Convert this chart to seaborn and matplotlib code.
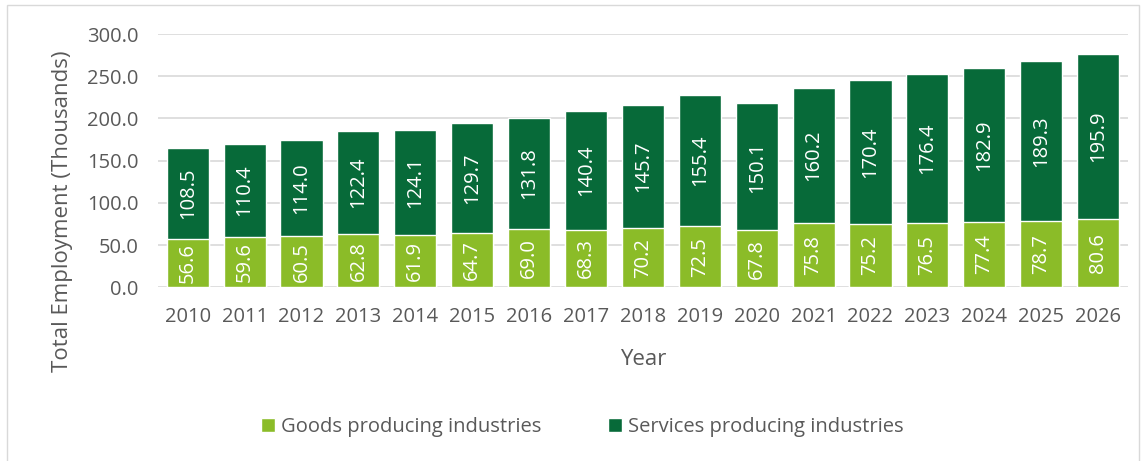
import numpy as np
import pandas as pd
import matplotlib
matplotlib.use("Agg")
import matplotlib.pyplot as plt
import seaborn as sns
from matplotlib.patches import Patch, Rectangle

# ============================================================================
# DATA
# ============================================================================

years = ["2010", "2011", "2012", "2013", "2014", "2015", "2016", "2017", "2018",
         "2019", "2020", "2021", "2022", "2023", "2024", "2025", "2026"]

goods = [56.6, 59.6, 60.5, 62.8, 61.9, 64.7, 69.0, 68.3, 70.2,
         72.5, 67.8, 75.8, 75.2, 76.5, 77.4, 78.7, 80.6]

services = [108.5, 110.4, 114.0, 122.4, 124.1, 129.7, 131.8, 140.4, 145.7,
            155.4, 150.1, 160.2, 170.4, 176.4, 182.9, 189.3, 195.9]

yticks = [0, 50, 100, 150, 200, 250, 300]

goods_color = "#8BBC28"
services_color = "#076A39"
text_color = "#595959"

df = pd.DataFrame({"Year": years, "Goods": goods, "Services": services})
df["Total"] = df["Goods"] + df["Services"]

# ============================================================================
# PLOT
# ============================================================================

sns.set_style("white")
plt.rcParams["font.family"] = ["Open Sans", "DejaVu Sans"]

fig = plt.figure(figsize=(11.46, 4.61), dpi=100)
ax = fig.add_axes([0.138, 0.377, 0.846, 0.549])

# services drawn as total, goods on top of it
sns.barplot(data=df, x="Year", y="Total", color=services_color,
            saturation=1, width=0.74, ax=ax, zorder=2)
sns.barplot(data=df, x="Year", y="Goods", color=goods_color,
            saturation=1, width=0.74, ax=ax, zorder=3)

for i, row in df.iterrows():
    ax.text(i, row["Goods"] / 2, f"{row['Goods']:.1f}", rotation=90,
            ha="center", va="center", color="white", fontsize=14.5, zorder=4)
    ax.text(i, row["Goods"] + row["Services"] / 2, f"{row['Services']:.1f}",
            rotation=90, ha="center", va="center", color="white",
            fontsize=14.5, zorder=4)

ax.set_ylim(0, 300)
ax.set_yticks(yticks)
ax.set_yticklabels([f"{v:.1f}" for v in yticks])
ax.set_xlim(-0.52, len(years) - 0.48)
ax.yaxis.grid(True, color="#D9D9D9", linewidth=1.2, zorder=0)
ax.set_axisbelow(True)
for s in ax.spines.values():
    s.set_visible(False)

ax.tick_params(axis="both", colors=text_color, labelsize=14.5, length=0)
ax.tick_params(axis="x", pad=14)
ax.tick_params(axis="y", pad=14)

ax.set_xlabel("Year", fontsize=16, color=text_color, labelpad=16)
ax.set_ylabel("Total Employment (Thousands)", fontsize=16, color=text_color)
ax.yaxis.set_label_coords(-0.088, 0.3)

handles = [Patch(facecolor=goods_color, label="Goods producing industries"),
           Patch(facecolor=services_color, label="Services producing industries")]
leg = fig.legend(handles=handles, loc="center", bbox_to_anchor=(0.508, 0.074),
                 ncol=2, frameon=False, fontsize=14.5, handlelength=0.7,
                 handleheight=0.7, handletextpad=0.3, columnspacing=3.3)
for t in leg.get_texts():
    t.set_color(text_color)

# chart area border
fig.patches.append(Rectangle((0.006, -0.01), 0.988, 0.999, transform=fig.transFigure,
                             fill=False, edgecolor="#D9D9D9", linewidth=1))

fig.savefig("out.png", dpi=100)
